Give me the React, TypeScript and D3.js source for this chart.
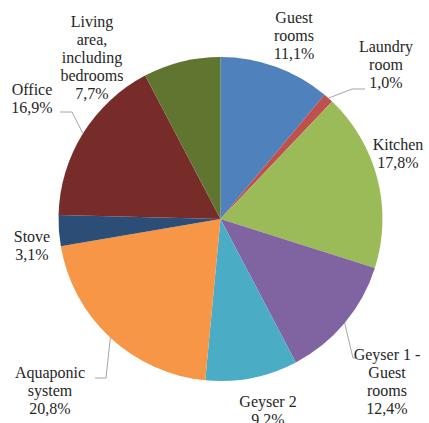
import React from "react";
import * as d3 from "d3";

const categories = [
  "Guest rooms",
  "Laundry room",
  "Kitchen",
  "Geyser 1 - Guest rooms",
  "Geyser 2",
  "Aquaponic system",
  "Stove",
  "Office",
  "Living area, including bedrooms",
];
const values = [11.1, 1.0, 17.8, 12.4, 9.2, 20.8, 3.1, 16.9, 7.7];
const valueLabels = ["11,1%", "1,0%", "17,8%", "12,4%", "9,2%", "20,8%", "3,1%", "16,9%", "7,7%"];
const labelLines = [
  ["Guest", "rooms"],
  ["Laundry", "room"],
  ["Kitchen"],
  ["Geyser 1 -", "Guest", "rooms"],
  ["Geyser 2"],
  ["Aquaponic", "system"],
  ["Stove"],
  ["Office"],
  ["Living", "area,", "including", "bedrooms"],
];

const colors = ["#4F81BD", "#C0504D", "#9BBB59", "#8064A2", "#4BACC6", "#F79646", "#2C4D75", "#772C2A", "#5F7530"];

// label layout: center x, first baseline y
const labelPos: [number, number][] = [
  [294, 23],
  [386, 52],
  [398, 150],
  [387, 360],
  [268, 407],
  [50, 378],
  [32, 242],
  [32, 95],
  [92, 27],
];
// leader lines: extra points after the pie edge point (null = no leader)
const leaderPts: ([number, number][] | null)[] = [
  null,
  [[352, 89], [365, 89]],
  null,
  [[353, 358], [356, 358]],
  null,
  [[106, 378], [95, 378]],
  null,
  [[72, 112], [60, 112]],
  null,
];

const W = 429;
const H = 423;
const cx = 220.5;
const cy = 219;
const R = 162;
const LH = 18;

export default function App() {
  const pie = d3.pie<number>().sort(null).value((d) => d);
  const arcs = pie(values);
  const arcGen = d3.arc<d3.PieArcDatum<number>>().innerRadius(0).outerRadius(R);

  return (
    <svg width={W} height={H} style={{ position: "absolute", left: 0, top: 0 }}>
      <rect width={W} height={H} fill="#fff" />
      <g transform={`translate(${cx},${cy})`}>
        {arcs.map((a, i) => (
          <path key={i} d={arcGen(a) || ""} fill={colors[i]} />
        ))}
      </g>
      {arcs.map((a, i) => {
        const pts = leaderPts[i];
        if (!pts) return null;
        const mid = (a.startAngle + a.endAngle) / 2;
        const sx = cx + R * Math.sin(mid);
        const sy = cy - R * Math.cos(mid);
        const line = d3.line()([[sx, sy], ...pts]);
        return <path key={"l" + i} d={line || ""} fill="none" stroke="#A6A6A6" strokeWidth={1} />;
      })}
      {categories.map((c, i) => {
        const [x, y] = labelPos[i];
        const lines = [...labelLines[i], valueLabels[i]];
        return (
          <text
            key={"t" + i}
            x={x}
            y={y}
            textAnchor="middle"
            fill="#262626"
            style={{ fontFamily: "Liberation Serif", fontSize: "16px" }}
          >
            {lines.map((ln, j) => (
              <tspan key={j} x={x} y={y + j * LH}>
                {ln}
              </tspan>
            ))}
          </text>
        );
      })}
    </svg>
  );
}
